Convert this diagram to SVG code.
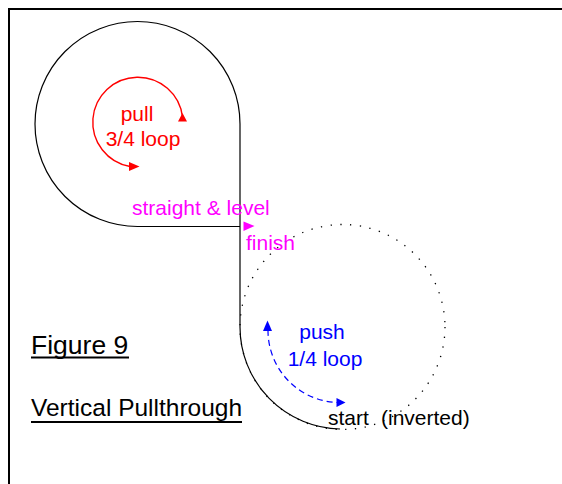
<svg xmlns="http://www.w3.org/2000/svg" width="562" height="484" viewBox="0 0 562 484">
  <style>
    text { font-family: "Liberation Sans", Arial, sans-serif; font-size: 21px; }
    .red { fill: #FF0000; }
    .mag { fill: #FF00FF; }
    .blue { fill: #0000FF; }
    .blk { fill: #000000; }
    .title { font-size: 26.5px; }
    .caption { font-size: 24.5px; }
  </style>
  <rect width="562" height="484" fill="#ffffff"/>

  <!-- page frame -->
  <g id="frame" stroke="#000" stroke-width="2" fill="none">
    <path d="M 9 484 V 9 H 562"/>
  </g>

  <!-- flight path and reference circle -->
  <g id="connectors" fill="none">
    <circle cx="342.5" cy="327" r="102.5" stroke="#000" stroke-width="1.3" stroke-dasharray="1.3 8.5"/>
    <path d="M 340 429 A 102 102 0 0 1 240 327 V 124 A 102.5 102.5 0 1 0 137.5 226.5 H 240" stroke="#000" stroke-width="1.2"/>
    <!-- pull direction -->
    <path d="M 182.5 117 A 45 45 0 1 0 130 166.5" stroke="#FF0000" stroke-width="1.4"/>
    <polygon points="182.5,113 178,121.5 187,121.5" fill="#FF0000"/>
    <polygon points="139.5,166.5 129,162 129,171" fill="#FF0000"/>
    <!-- push direction -->
    <path d="M 268 330 A 72 72 0 0 0 337 402.5" stroke="#0000FF" stroke-width="1.2" stroke-dasharray="6 4"/>
    <polygon points="267.5,320.5 263,331 272,331" fill="#0000FF"/>
    <polygon points="345.5,402.5 336.5,398 336.5,407" fill="#0000FF"/>
    <!-- finish marker -->
    <polygon points="243.5,221.5 254.5,226 243.5,231" fill="#FF00FF"/>
  </g>

  <g id="pull-label">
    <text class="red" x="137" y="121" text-anchor="middle">pull</text>
    <text class="red" x="143" y="146" text-anchor="middle">3/4 loop</text>
  </g>

  <g id="straight-level">
    <text class="mag" x="132" y="214.5">straight &amp; level</text>
  </g>

  <g id="finish">
    <text class="mag" x="246" y="250">finish</text>
  </g>

  <g id="push-label">
    <text class="blue" x="322" y="339" text-anchor="middle">push</text>
    <text class="blue" x="325" y="366" text-anchor="middle">1/4 loop</text>
  </g>

  <g id="start">
    <text class="blk" x="328" y="425">start</text>
    <text class="blk" x="381" y="425">(inverted)</text>
  </g>

  <g id="figure-title">
    <text class="blk title" x="31" y="353.5">Figure 9</text>
    <rect x="31" y="356.5" width="98" height="2" fill="#000"/>
  </g>

  <g id="figure-caption">
    <text class="blk caption" x="31" y="416">Vertical Pullthrough</text>
    <rect x="31" y="421" width="211" height="2" fill="#000"/>
  </g>
</svg>
